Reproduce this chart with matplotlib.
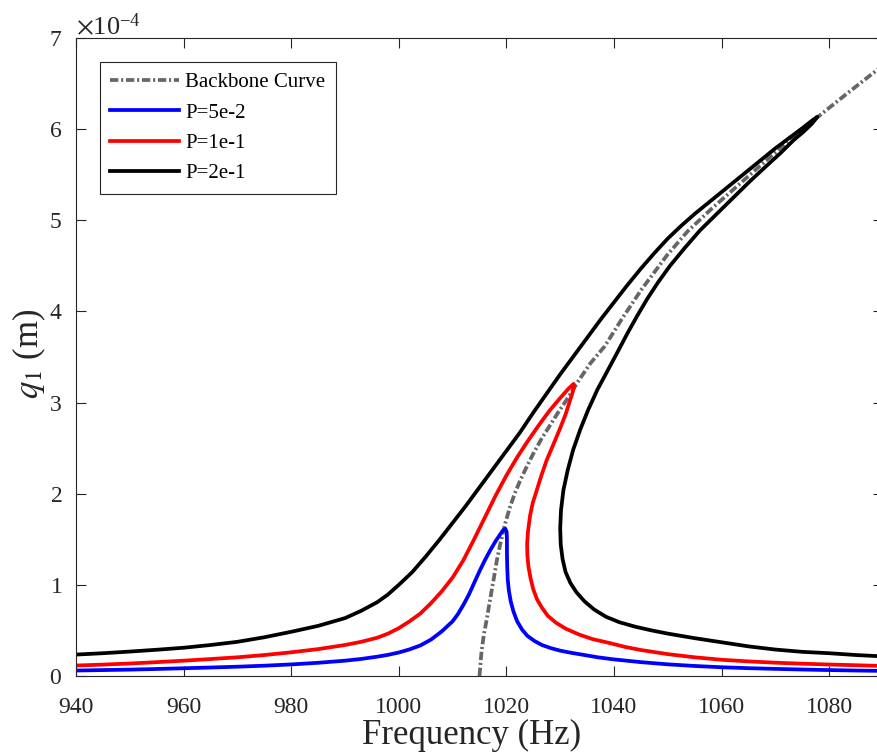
import matplotlib
matplotlib.use('Agg')
import matplotlib.pyplot as plt
from matplotlib.ticker import ScalarFormatter

plt.rcParams['font.family'] = ['Liberation Serif', 'DejaVu Serif']
plt.rcParams['mathtext.fontset'] = 'stix'
plt.rcParams['lines.scale_dashes'] = False

SCALE = 1e-4  # amplitudes below are in units of 1e-4 m

# backbone curve
bb_freq = [1015.0, 1015.2, 1015.4, 1015.8, 1016.4, 1017.0, 1017.6, 1018.2, 1018.9,
           1019.8, 1020.7, 1021.6, 1022.6, 1023.8, 1025.0, 1026.5, 1028.1, 1029.6,
           1031.2, 1033.3, 1035.6, 1038.3, 1041.6, 1045.1, 1049.9, 1053.7, 1058.2,
           1062.8, 1067.2, 1073.1, 1077.8, 1083.3, 1090.0]
bb_amp = [0.0, 0.15, 0.28, 0.45, 0.64, 0.85, 1.05, 1.26, 1.46,
          1.68, 1.86, 2.01, 2.15, 2.30, 2.44, 2.60, 2.75, 2.89,
          3.03, 3.23, 3.43, 3.62, 3.93, 4.24, 4.62, 4.88, 5.13,
          5.37, 5.60, 5.90, 6.13, 6.39, 6.70]

# P = 5e-2
p1_freq = [940, 945, 950, 955, 960, 965, 970, 975, 980, 985, 990, 993, 996, 998,
           1000, 1002, 1004, 1006, 1008, 1010, 1011, 1012, 1013, 1014, 1015, 1016,
           1017, 1018, 1018.8, 1019.4, 1019.8, 1020.05, 1020.1, 1020.1, 1020.15,
           1020.25, 1020.45, 1020.8, 1021.3, 1022.0, 1022.9, 1023.9, 1025.2, 1026.6,
           1028.3, 1030.0, 1032, 1034, 1037, 1040, 1045, 1050, 1055, 1060, 1065,
           1070, 1075, 1080, 1085, 1090]
p1_amp = [0.060, 0.065, 0.070, 0.077, 0.085, 0.093, 0.102, 0.113, 0.127, 0.145,
          0.168, 0.187, 0.212, 0.232, 0.258, 0.292, 0.335, 0.40, 0.49, 0.60, 0.68,
          0.78, 0.89, 1.02, 1.15, 1.27, 1.38, 1.48, 1.55, 1.60, 1.615, 1.58, 1.50,
          1.35, 1.20, 1.06, 0.94, 0.82, 0.71, 0.60, 0.51, 0.44, 0.385, 0.34, 0.305,
          0.278, 0.255, 0.235, 0.205, 0.182, 0.152, 0.128, 0.110, 0.096, 0.086,
          0.078, 0.071, 0.065, 0.060, 0.056]

# P = 1e-1
p2_freq = [940, 945, 950, 955, 960, 965, 970, 975, 980, 985, 990, 993, 996, 998,
           1000, 1002, 1004, 1006, 1008, 1010, 1012, 1014, 1016, 1018, 1020, 1022,
           1024, 1026, 1028, 1030, 1031.5, 1032.5, 1032.6, 1032.3, 1031.7,
           1031.0, 1030.0, 1028.8, 1027.5, 1026.5, 1025.6, 1024.9, 1024.4, 1024.0,
           1023.85, 1023.9, 1024.1, 1024.5, 1025.0, 1025.7, 1026.6, 1027.7, 1029.2,
           1031, 1033.5, 1036, 1039.3, 1042, 1045, 1050, 1055, 1060, 1065, 1070,
           1075, 1080, 1085, 1090]
p2_amp = [0.115, 0.125, 0.137, 0.152, 0.168, 0.186, 0.205, 0.23, 0.26, 0.295,
          0.34, 0.375, 0.42, 0.465, 0.525, 0.60, 0.685, 0.80, 0.93, 1.08, 1.27,
          1.50, 1.74, 1.98, 2.20, 2.40, 2.58, 2.75, 2.91, 3.05, 3.15, 3.205,
          3.18, 3.11, 3.00, 2.87, 2.72, 2.55, 2.37, 2.20, 2.03, 1.90, 1.76, 1.58,
          1.45, 1.32, 1.20, 1.07, 0.95, 0.84, 0.75, 0.66, 0.585, 0.52, 0.455,
          0.405, 0.36, 0.32, 0.285, 0.24, 0.205, 0.178, 0.16, 0.146, 0.135, 0.126,
          0.118, 0.11]

# P = 2e-1
p3_freq = [940, 945, 950, 955, 960, 965, 970, 975, 980, 985, 990, 993, 996, 998,
           1000, 1002.5, 1005, 1007.5, 1010, 1012.5, 1015, 1017.5, 1020, 1022.5,
           1025, 1027.5, 1030, 1032.5, 1035, 1037.5, 1040, 1042.5, 1045, 1047.5,
           1050, 1052.5, 1055, 1057.5, 1060, 1062.5, 1065, 1067.5, 1070, 1072.5,
           1075, 1076.5, 1077.4, 1077.8, 1076.8, 1075.2, 1073.4, 1071.0, 1068.4,
           1065.3, 1062.2, 1059.1, 1056.0, 1053.2, 1050.4, 1048.2, 1046.2, 1044.3,
           1042.5, 1040.8, 1038.9, 1036.9, 1035.2, 1033.7, 1032.4, 1031.4, 1030.6,
           1030.15, 1030.0, 1030.1, 1030.45, 1031.0, 1031.9, 1033.0, 1034.5, 1036.3,
           1038.5, 1041, 1044, 1047, 1050, 1055, 1060, 1065, 1070, 1075, 1080,
           1085, 1090]
p3_amp = [0.235, 0.25, 0.268, 0.288, 0.31, 0.34, 0.375, 0.425, 0.485, 0.55,
          0.635, 0.715, 0.81, 0.895, 1.00, 1.14, 1.31, 1.49, 1.68, 1.87, 2.07,
          2.27, 2.47, 2.67, 2.89, 3.10, 3.31, 3.51, 3.71, 3.91, 4.10, 4.29, 4.47,
          4.64, 4.80, 4.94, 5.07, 5.19, 5.31, 5.43, 5.55, 5.67, 5.79, 5.90, 6.01,
          6.08, 6.12, 6.135, 6.06, 5.97, 5.88, 5.74, 5.60, 5.43, 5.25, 5.07, 4.89,
          4.70, 4.50, 4.32, 4.14, 3.95, 3.76, 3.57, 3.36, 3.14, 2.92, 2.70, 2.48,
          2.26, 2.04, 1.82, 1.62, 1.44, 1.28, 1.14, 1.02, 0.92, 0.82, 0.73, 0.65,
          0.59, 0.54, 0.50, 0.465, 0.415, 0.37, 0.325, 0.29, 0.265, 0.25, 0.23,
          0.215]

x_ticks = [940, 960, 980, 1000, 1020, 1040, 1060, 1080]
y_ticks = [0, 1, 2, 3, 4, 5, 6, 7]

axis_col = '#262626'
W, H = 878, 753
fig = plt.figure(figsize=(W / 100, H / 100), dpi=100)
ax = fig.add_axes([76 / W, 1 - 676 / H, (883 - 76) / W, (676 - 38) / H])

lw = 2.7
ax.plot(bb_freq, [a * SCALE for a in bb_amp], color='#666666', lw=lw,
        linestyle=(0, (6, 2, 1.5, 2)), label='Backbone Curve')
ax.plot(p1_freq, [a * SCALE for a in p1_amp], color='blue', lw=lw, label='P=5e-2')
ax.plot(p2_freq, [a * SCALE for a in p2_amp], color='red', lw=lw, label='P=1e-1')
ax.plot(p3_freq, [a * SCALE for a in p3_amp], color='black', lw=lw, label='P=2e-1')

ax.set_xlim(940, 1090)
ax.set_ylim(0, 7 * SCALE)
ax.set_xticks(x_ticks)
ax.set_yticks([t * SCALE for t in y_ticks])

fmt = ScalarFormatter(useMathText=True)
fmt.set_powerlimits((-3, 3))
ax.yaxis.set_major_formatter(fmt)
ax.yaxis.get_offset_text().set_fontsize(19)
ax.yaxis.get_offset_text().set_color(axis_col)

ax.tick_params(direction='in', length=7, width=0.8, top=True, right=True,
               labelsize=17, colors=axis_col)
ax.tick_params(axis='x', pad=15)
ax.tick_params(axis='y', pad=10)
for s in ax.spines.values():
    s.set_color(axis_col)
    s.set_linewidth(0.8)

ax.set_xlabel('Frequency (Hz)', fontsize=25, color=axis_col)
ax.xaxis.set_label_coords(0.49, -(719 - 676) / (676 - 38))
ax.set_ylabel('$q_1$ (m)', fontsize=25, color=axis_col)
ax.yaxis.set_label_coords(-(76 - 48) / (883 - 76), 0.505)

leg = ax.legend(loc='upper left', bbox_to_anchor=(0.0297, 0.962), borderaxespad=0,
                fontsize=15, handlelength=3.3, handletextpad=0.29, labelspacing=0.52,
                borderpad=0.5, fancybox=False, framealpha=1)
leg.get_frame().set_edgecolor(axis_col)
leg.get_frame().set_linewidth(0.8)

fig.savefig('out.png', dpi=100)
